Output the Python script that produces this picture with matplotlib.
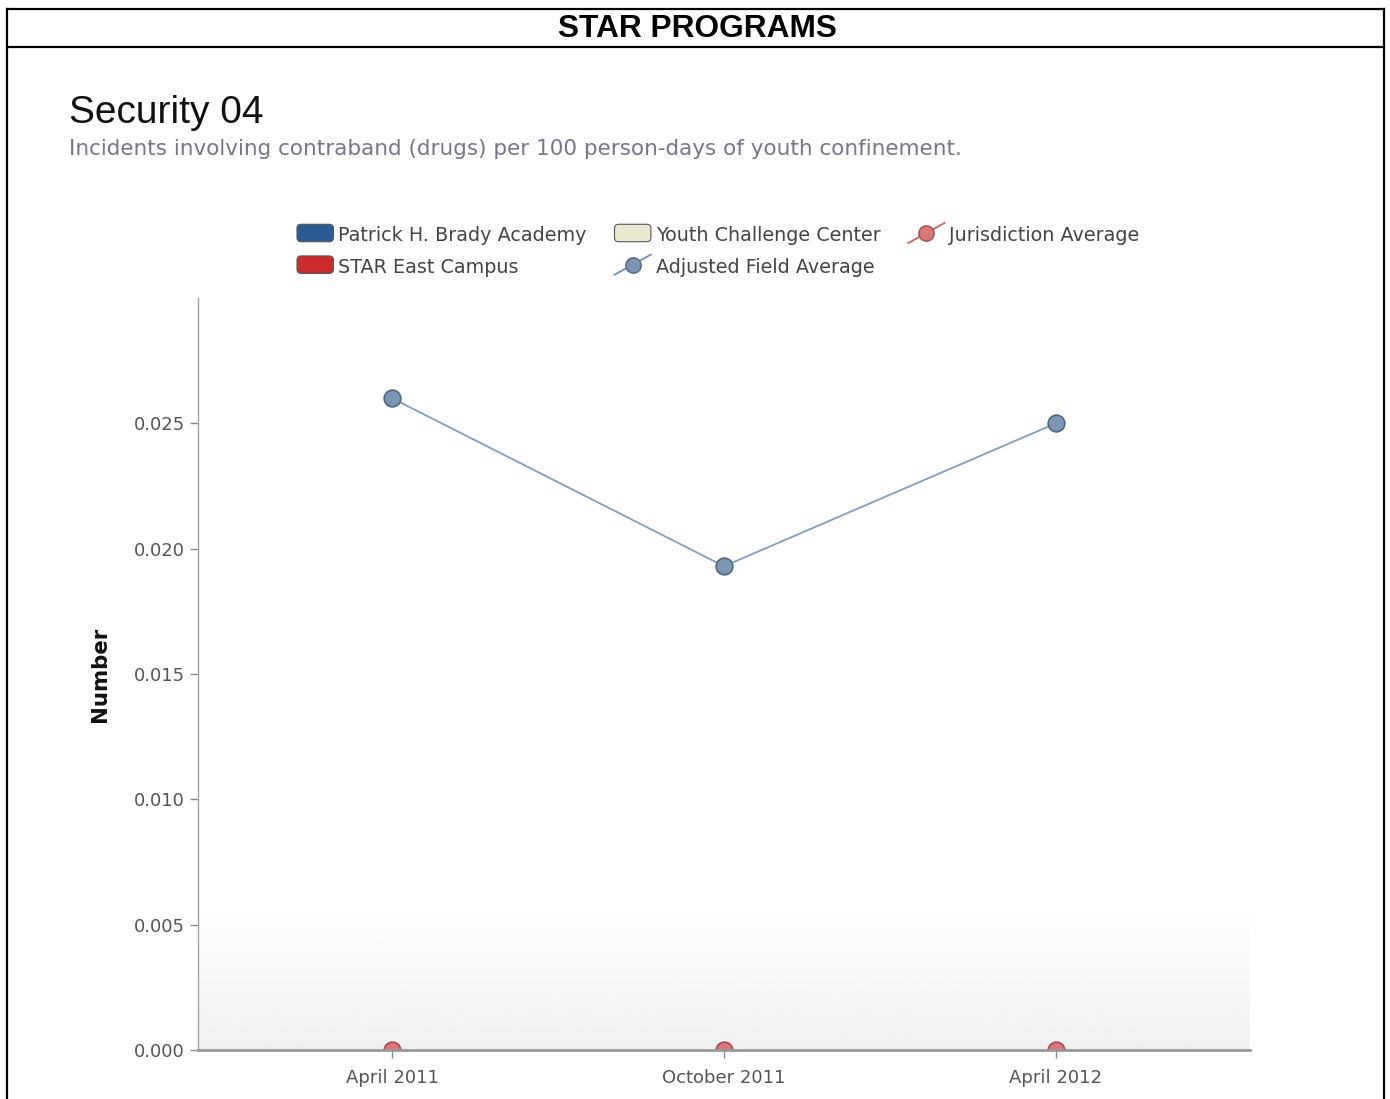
import numpy as np
from matplotlib import pyplot as plt
from matplotlib.lines import Line2D
from matplotlib.patches import FancyBboxPatch
from matplotlib.legend_handler import HandlerBase

# data
periods = ['April 2011', 'October 2011', 'April 2012']
adjusted_field_avg = [0.0260, 0.0193, 0.0250]
jurisdiction_avg = [0.0, 0.0, 0.0]
bar_series = ['Patrick H. Brady Academy', 'STAR East Campus', 'Youth Challenge Center']
bar_colors = ['#2b5b93', '#cc2b2b', '#e9e7cf']
yticks = [0.000, 0.005, 0.010, 0.015, 0.020, 0.025]

W, H = 1390, 1099
fig = plt.figure(figsize=(W/100, H/100), dpi=100)

''' ----- PAGE FRAME ----- '''
def fx(px): return px/W
def fy(py): return 1 - py/H

for (x0, y0, x1, y1) in [(7, 9, 1384, 9), (7, 47, 1384, 47), (7, 9, 7, H), (1384, 9, 1384, H)]:
    fig.add_artist(Line2D([fx(x0), fx(x1)], [fy(y0), fy(y1)], color='black', lw=1.6))

fig.text(fx(697), fy(29), 'STAR PROGRAMS', ha='center', va='center',
         family='Liberation Sans', weight='bold', fontsize=22.8)
fig.text(fx(69), fy(113), 'Security 04', ha='left', va='center',
         family='Liberation Sans', fontsize=28, color='#111111')
fig.text(fx(69), fy(149), 'Incidents involving contraband (drugs) per 100 person-days of youth confinement.',
         ha='left', va='center', family='DejaVu Sans', fontsize=15.5, color='#7a7488')

''' ----- AXES ----- '''
ax = fig.add_axes([fx(198), fy(1050), fx(1250)-fx(198), fy(298)-fy(1050)])
x = np.arange(len(periods))
ax.set_xlim(-0.585, len(periods)-1+0.585)
ax.set_ylim(0, 0.03)

# soft gradient at the floor of the plot
grad = np.linspace(0.94, 1.0, 100).reshape(-1, 1)
ax.imshow(grad, cmap='gray', vmin=0, vmax=1, aspect='auto', origin='lower',
          extent=[-0.585, len(periods)-1+0.585, 0, 0.0058], zorder=0)

ax.plot(x, adjusted_field_avg, color='#7f9dc2', lw=1.3, zorder=2)
ax.plot(x, adjusted_field_avg, 'o', ms=12, mfc='#7d95b2', mec='#4e6580', mew=1.2, zorder=3)
ax.plot(x, jurisdiction_avg, 'o', ms=12, mfc='#d97878', mec='#a34c4c', mew=1.2, zorder=3)

for side in ['top', 'right']:
    ax.spines[side].set_visible(False)
ax.spines['left'].set_color('#a0a0a0')
ax.spines['left'].set_linewidth(1.0)
ax.spines['bottom'].set_color('#999999')
ax.spines['bottom'].set_linewidth(2.0)
ax.spines['bottom'].set_zorder(4)

ax.set_xticks(x)
ax.set_xticklabels(periods)
ax.set_yticks(yticks)
ax.set_yticklabels(['{:.3f}'.format(v) for v in yticks])
ax.tick_params(axis='both', colors='#888888', labelcolor='#555555', labelsize=13,
               length=6, width=1, direction='out')
ax.tick_params(axis='x', pad=8)
ax.set_ylabel('Number', fontsize=15.3, weight='bold', color='#111111', labelpad=17)
ax.set_facecolor('white')

''' ----- LEGEND ----- '''
class DiagMarker(HandlerBase):
    def __init__(self, fc, ec, lc):
        super().__init__()
        self.fc, self.ec, self.lc = fc, ec, lc

    def create_artists(self, legend, orig, xd, yd, width, height, fontsize, trans):
        ln = Line2D([xd, xd+width], [yd-2, yd+height+2], color=self.lc, lw=1.3, transform=trans)
        mk = Line2D([xd+width/2], [yd+height/2], marker='o', ms=11, mfc=self.fc,
                    mec=self.ec, mew=1.0, transform=trans)
        return [ln, mk]


class RoundPatch(HandlerBase):
    def __init__(self, fc):
        super().__init__()
        self.fc = fc

    def create_artists(self, legend, orig, xd, yd, width, height, fontsize, trans):
        p = FancyBboxPatch((xd, yd-1), width, height+2, boxstyle='round,pad=0,rounding_size=3',
                           fc=self.fc, ec='#555555', lw=0.8, transform=trans)
        return [p]


h_pat = Line2D([], [], label=bar_series[0])
h_star = Line2D([], [], label=bar_series[1])
h_youth = Line2D([], [], label=bar_series[2])
h_adj = Line2D([], [], label='Adjusted Field Average')
h_jur = Line2D([], [], label='Jurisdiction Average')

fig.legend([h_pat, h_star, h_youth, h_adj, h_jur],
           [bar_series[0], bar_series[1], bar_series[2], 'Adjusted Field Average', 'Jurisdiction Average'],
           handler_map={h_pat: RoundPatch(bar_colors[0]), h_star: RoundPatch(bar_colors[1]),
                        h_youth: RoundPatch(bar_colors[2]),
                        h_adj: DiagMarker('#7d95b2', '#4e6580', '#6f8fb8'),
                        h_jur: DiagMarker('#d97878', '#a34c4c', '#d06060')},
           ncol=3, loc='upper left', bbox_to_anchor=(fx(297), fy(226)),
           frameon=False, fontsize=13.8, handlelength=1.9, handleheight=0.8,
           handletextpad=0.25, columnspacing=1.45, labelspacing=0.66,
           labelcolor='#444444', borderaxespad=0, borderpad=0)

plt.savefig('out.png', dpi=100)
plt.close()
